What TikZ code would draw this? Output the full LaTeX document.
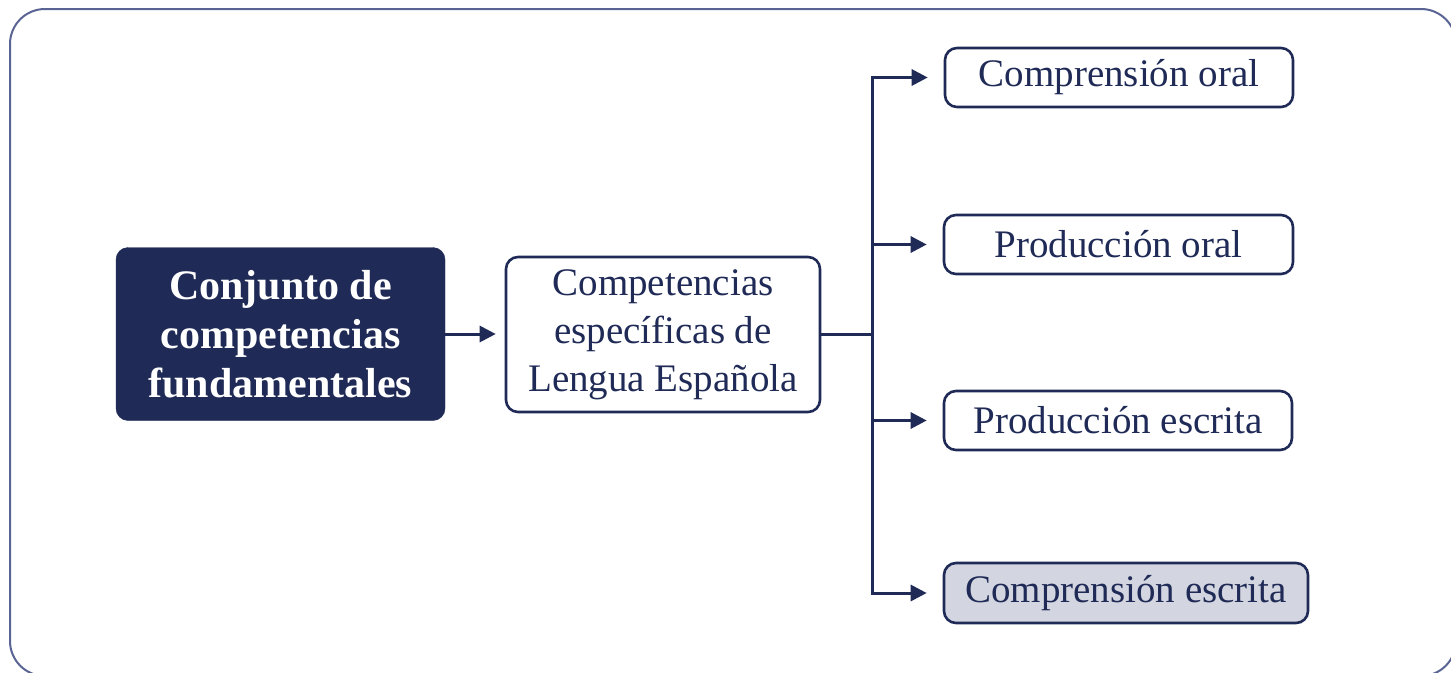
\documentclass[tikz,border=0pt]{standalone}
\usepackage{fontspec}
\setmainfont{Liberation Serif}
\usetikzlibrary{arrows.meta}
\definecolor{navy}{HTML}{1F2A56}
\definecolor{framec}{HTML}{5A6494}
\definecolor{lightgray}{HTML}{D3D6E0}
\tikzset{
  box/.style={draw=navy, line width=2.6pt, rounded corners=12pt, text=navy, align=center, inner sep=0pt, font=\fontsize{39}{48}\selectfont},
  darkbox/.style={fill=navy, draw=navy, rounded corners=12pt, text=white, align=center, inner sep=0pt, font=\fontsize{42}{49}\selectfont\bfseries},
  conn/.style={draw=navy, line width=3pt},
  arr/.style={conn, -{Triangle[length=16pt,width=16pt]}},
}
\begin{document}
\begin{tikzpicture}[x=1pt,y=-1pt]
\useasboundingbox (0,0) rectangle (1451,672);
\begin{scope}
\clip (0,0) rectangle (1451,672);
\draw[framec, line width=2pt, rounded corners=35pt] (10,9) rectangle (1456,676);
\end{scope}
\node[darkbox, minimum width=329pt, minimum height=173pt] (dark) at (280.5,334) {Conjunto de\\competencias\\fundamentales};
\node[box, minimum width=314pt, minimum height=155pt] (mid) at (663,334.5) {Competencias\\específicas de\\Lengua Española};
\node[box, minimum width=348pt, minimum height=59pt] (co) at (1119,77.5) {Comprensión oral};
\node[box, minimum width=349pt, minimum height=59pt] (po) at (1118.5,244.5) {Producción oral};
\node[box, minimum width=348pt, minimum height=59pt] (pe) at (1118,420.5) {Producción escrita};
\node[box, fill=lightgray, minimum width=364pt, minimum height=60pt] (ce) at (1126,593) {Comprensión escrita};
\coordinate (trunk) at (872,334.5);
\draw[arr, shorten >=9pt] (dark.east) -- (dark.east -| mid.west);
\draw[conn] (mid.east) -- (trunk);
\draw[arr, shorten >=16pt] (trunk) |- (co.west);
\draw[arr, shorten >=16pt] (trunk) |- (po.west);
\draw[arr, shorten >=16pt] (trunk) |- (pe.west);
\draw[arr, shorten >=16pt] (trunk) |- (ce.west);
\end{tikzpicture}
\end{document}
